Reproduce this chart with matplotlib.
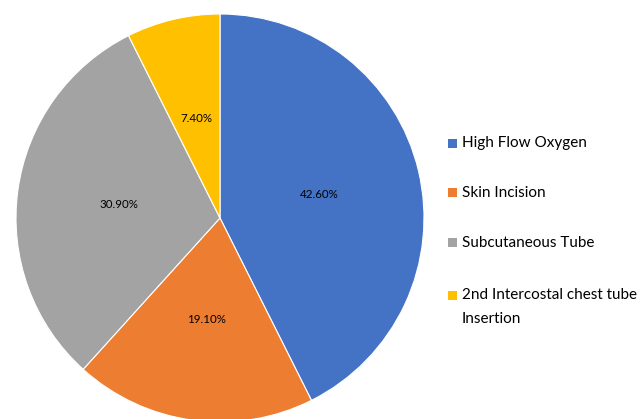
import matplotlib.pyplot as plt
from matplotlib.patches import Rectangle

# Data
categories = ["High Flow Oxygen", "Skin Incision", "Subcutaneous Tube",
              "2nd Intercostal chest tube\nInsertion"]
shares = [42.6, 19.1, 30.9, 7.4]
colors = ["#4472C4", "#ED7D31", "#A3A3A3", "#FFC000"]

plt.rcParams["font.family"] = ["Lato", "DejaVu Sans"]

W, H = 643, 419
fig = plt.figure(figsize=(W / 100, H / 100), dpi=100)

# pie centre (220, 218) px, radius 204 px
cx, cy, r = 220, 218, 204
ax = fig.add_axes([(cx - r) / W, (H - cy - r) / H, 2 * r / W, 2 * r / H])
wedges, texts = ax.pie(
    shares, colors=colors, startangle=90, counterclock=False,
    labels=[f"{v:.2f}%" for v in shares], labeldistance=0.5,
    wedgeprops=dict(edgecolor="white", linewidth=0.8),
    textprops=dict(fontsize=8.3, ha="center", va="center", color="black"),
    radius=1.0,
)
ax.set_xlim(-1, 1)
ax.set_ylim(-1, 1)
ax.set_aspect("equal")

# legend drawn at fixed positions
rows_y = [143, 193, 243, 295]
for lab, col, y in zip(categories, colors, rows_y):
    fig.patches.append(Rectangle((448 / W, (H - y - 4.5) / H), 9 / W, 9 / H,
                                 transform=fig.transFigure, facecolor=col,
                                 edgecolor="none"))
    first, *rest = lab.split("\n")
    fig.text(462 / W, (H - y) / H, first, fontsize=11, va="center", ha="left")
    for i, extra in enumerate(rest, 1):
        fig.text(462 / W, (H - y - 24 * i) / H, extra, fontsize=11,
                 va="center", ha="left")

fig.savefig("out.png", dpi=100)
